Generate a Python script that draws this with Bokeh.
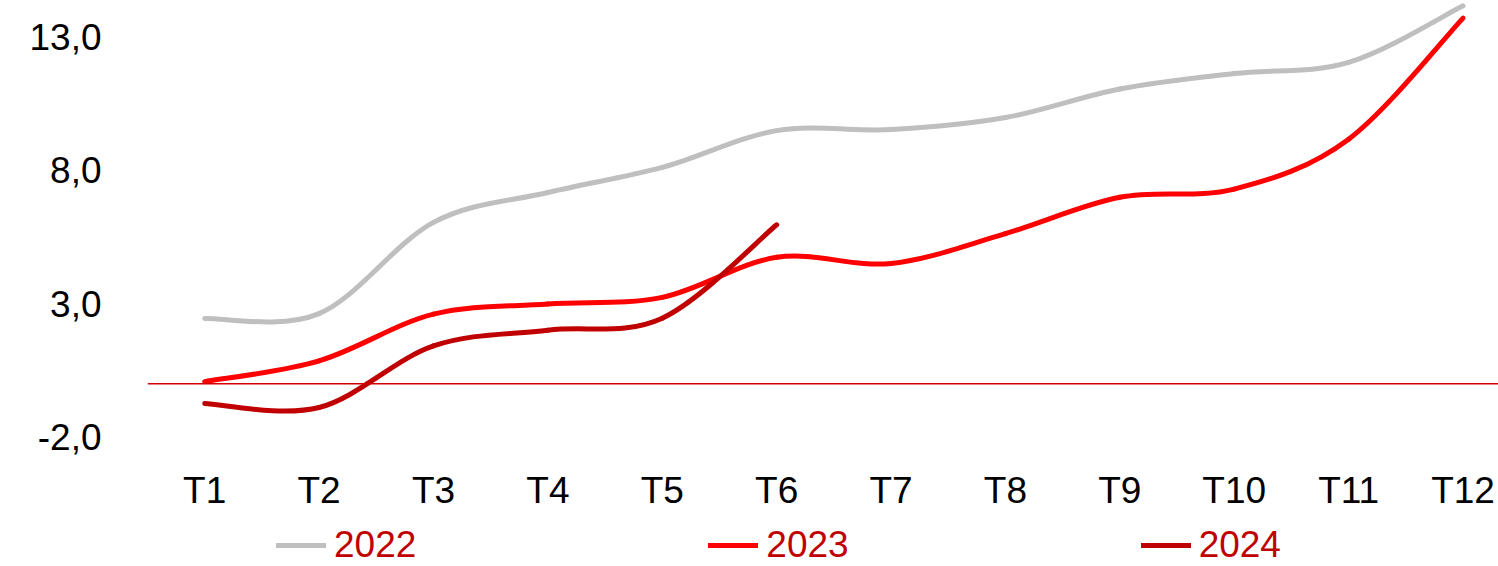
import numpy as np
from bokeh.plotting import figure
from bokeh.layouts import column
from bokeh.models import Range1d, Legend, LegendItem, FixedTicker, Span
from bokeh.embed import file_html
from bokeh.resources import INLINE

# ---- data ----
categories = ["T1", "T2", "T3", "T4", "T5", "T6", "T7", "T8", "T9", "T10", "T11", "T12"]
s2022 = [2.45, 2.63, 6.05, 7.17, 8.11, 9.49, 9.53, 9.98, 11.05, 11.63, 12.05, 14.17]
s2023 = [0.08, 0.86, 2.61, 2.99, 3.24, 4.74, 4.51, 5.63, 6.99, 7.30, 9.17, 13.71]
s2024 = [-0.74, -0.89, 1.42, 2.01, 2.46, 5.96]
y_ticks = [-2, 3, 8, 13]
y_tick_labels = ["-2,0", "3,0", "8,0", "13,0"]
series_names = ["2022", "2023", "2024"]

colors = {"2022": "#BFBFBF", "2023": "#FF0000", "2024": "#C00000"}
FONT = "Liberation Sans"
W = 1498


def smooth_segments(ys):
    """Bezier control points (Excel-like smoothing) derived from the data."""
    n = len(ys)
    xs = np.arange(1, n + 1, dtype=float)
    y = np.asarray(ys, dtype=float)
    x0, y0, x1, y1, cx0, cy0, cx1, cy1 = ([] for _ in range(8))
    for i in range(n - 1):
        ip = i - 1 if i > 0 else i
        inn = i + 2 if i + 2 < n else i + 1
        x0.append(xs[i]); y0.append(y[i])
        x1.append(xs[i + 1]); y1.append(y[i + 1])
        cx0.append(xs[i] + (xs[i + 1] - xs[ip]) / 6.0)
        cy0.append(y[i] + (y[i + 1] - y[ip]) / 6.0)
        cx1.append(xs[i + 1] - (xs[inn] - xs[i]) / 6.0)
        cy1.append(y[i + 1] - (y[inn] - y[i]) / 6.0)
    return dict(x0=x0, y0=y0, x1=x1, y1=y1, cx0=cx0, cy0=cy0, cx1=cx1, cy1=cy1)


p = figure(width=W, height=515, output_backend="svg", toolbar_location=None,
           x_range=Range1d(0.5, 12.31), y_range=Range1d(-2.69, 14.37),
           min_border_left=147, min_border_right=0, min_border_top=0, min_border_bottom=60)
p.outline_line_color = None
p.grid.visible = False

# zero line
p.add_layout(Span(location=0, dimension="width", line_color="#D00000", line_width=1.5))

for name, vals in zip(series_names, (s2022, s2023, s2024)):
    seg = smooth_segments(vals)
    p.bezier(x0="x0", y0="y0", x1="x1", y1="y1", cx0="cx0", cy0="cy0", cx1="cx1", cy1="cy1",
             source=seg, line_color=colors[name], line_width=5, line_cap="round")

# axes
p.xaxis.ticker = FixedTicker(ticks=list(range(1, len(categories) + 1)))
p.xaxis.major_label_overrides = {i + 1: c for i, c in enumerate(categories)}
p.yaxis.ticker = FixedTicker(ticks=y_ticks)
p.yaxis.major_label_overrides = {t: l for t, l in zip(y_ticks, y_tick_labels)}
for ax in (p.xaxis, p.yaxis):
    ax.axis_line_color = None
    ax.major_tick_line_color = None
    ax.minor_tick_line_color = None
    ax.major_label_text_font = FONT
    ax.major_label_text_font_size = "37px"
    ax.major_label_text_color = "black"
p.yaxis.major_label_standoff = 40
p.xaxis.major_label_standoff = 8

# legend strip
lg = figure(width=W, height=51, output_backend="svg", toolbar_location=None,
            x_range=Range1d(0, 1), y_range=Range1d(0, 1),
            min_border_left=0, min_border_right=0, min_border_top=0, min_border_bottom=0)
lg.axis.visible = False
lg.grid.visible = False
lg.outline_line_color = None
items = []
for name in series_names:
    # legend-only renderer (a single NaN point, nothing drawn in the frame)
    r = lg.line(x=[np.nan], y=[np.nan], line_color=colors[name], line_width=5, line_cap="round")
    items.append(LegendItem(label=name, renderers=[r]))
legend = Legend(items=items, orientation="horizontal", location=(129, 0),
                label_text_font=FONT, label_text_font_size="37px", label_text_color="#C00000",
                glyph_width=50, glyph_height=30, label_standoff=8, spacing=292,
                padding=0, margin=0, border_line_color=None, background_fill_alpha=0)
lg.add_layout(legend, "center")

open("out.html", "w").write(file_html(column(p, lg, spacing=0), INLINE))
